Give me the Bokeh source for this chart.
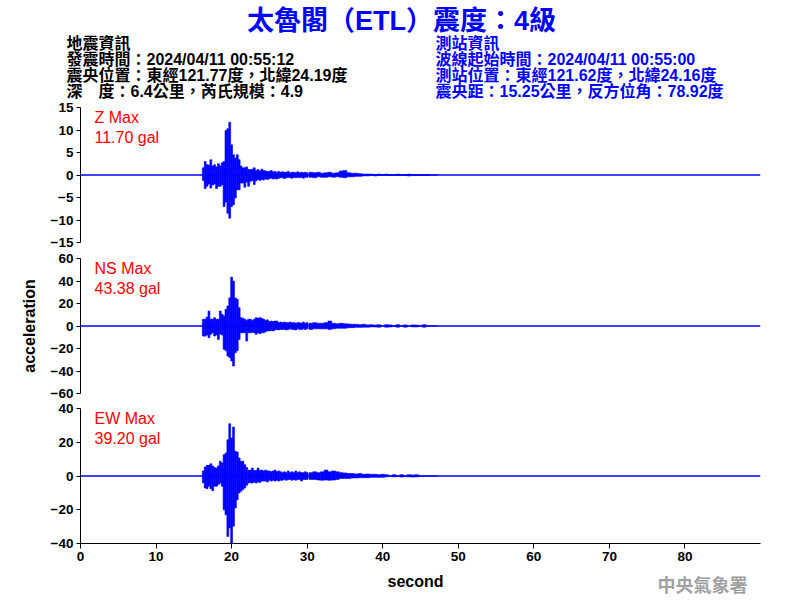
import numpy as np
from bokeh.plotting import figure
from bokeh.models import Range1d, Label
from bokeh.layouts import column, row
from bokeh.embed import file_html
from bokeh.resources import INLINE

# ---------------- data ----------------
TITLE = "太魯閣（ETL）震度：4級"
EQ_INFO = ["地震資訊",
           "發震時間：2024/04/11 00:55:12",
           "震央位置：東經121.77度，北緯24.19度",
           "深　度：6.4公里，芮氏規模：4.9"]
ST_INFO = ["測站資訊",
           "波線起始時間：2024/04/11 00:55:00",
           "測站位置：東經121.62度，北緯24.16度",
           "震央距：15.25公里，反方位角：78.92度"]
AGENCY = "中央氣象署"
X_LABEL = "second"
Y_LABEL = "acceleration"

CHANNELS = ["Z", "NS", "EW"]
MAX_GAL = [11.70, 43.38, 39.20]
Y_LIMITS = [15, 60, 40]
Y_TICKS = [[-15, -10, -5, 0, 5, 10, 15],
           [-60, -40, -20, 0, 20, 40, 60],
           [-40, -20, 0, 20, 40]]
X_TICKS = [0, 10, 20, 30, 40, 50, 60, 70, 80]
X_START, X_END = 0.0, 90.0

# sample times of the read-off peak envelope (s)
STEP_A, STEP_B = 0.25, 0.5
T_DENSE = np.arange(16.25, 30.001, STEP_A)   # 56 samples
T_TAIL = np.arange(30.5, 47.001, STEP_B)     # 34 samples

Z_HI_A = [1.6, 3.0, 2.3, 2.2, 3.4, 2.0, 2.3, 1.8,
          2.5, 2.0, 2.7, 3.0, 9.9, 10.3, 11.7, 6.7,
          4.5, 3.8, 4.5, 3.4, 2.0, 1.6, 1.6, 1.8,
          1.2, 1.2, 1.3, 1.6, 1.0, 1.2, 0.9, 1.3,
          1.0, 0.9, 0.8, 0.8, 1.0, 0.7, 0.8, 0.6,
          0.8, 0.6, 0.7, 0.6, 0.6, 0.8, 0.5, 0.6,
          0.6, 0.5, 0.7, 0.5, 0.6, 0.5, 0.6, 0.5]
Z_LO_A = [-1.2, -3.0, -2.5, -2.0, -2.9, -2.2, -2.0, -3.0,
          -2.5, -2.5, -2.2, -7.0, -6.0, -8.5, -9.6, -7.0,
          -6.6, -5.1, -3.3, -3.3, -1.8, -1.8, -2.7, -1.6,
          -2.5, -1.4, -1.2, -2.1, -1.3, -1.0, -1.2, -1.0,
          -1.1, -0.9, -1.0, -0.8, -0.7, -0.9, -0.8, -0.9,
          -0.7, -0.6, -0.6, -0.8, -0.6, -0.5, -0.6, -0.7,
          -0.5, -0.6, -0.5, -0.6, -0.5, -0.7, -0.5, -0.5]
Z_HI_B = [0.6, 0.5, 0.6, 0.4, 0.5, 0.6, 0.4, 0.5,
          0.9, 1.0, 0.5, 0.4, 0.4, 0.3, 0.2, 0.2,
          0.2, 0.1, 0.2, 0.1, 0.2, 0.1, 0.1, 0.2,
          0.1, 0.1, 0.2, 0.1, 0.1, 0.1, 0.1, 0.1,
          0.0, 0.0]
Z_LO_B = [-0.5, -0.6, -0.4, -0.5, -0.5, -0.4, -0.5, -0.4,
          -0.5, -0.6, -0.4, -0.4, -0.3, -0.3, -0.2, -0.2,
          -0.1, -0.2, -0.1, -0.1, -0.1, -0.1, -0.1, -0.1,
          -0.1, -0.1, -0.2, -0.1, -0.1, -0.1, -0.1, -0.1,
          0.0, 0.0]

NS_HI_A = [5.9, 6.0, 8.0, 13.3, 6.0, 6.0, 7.4, 6.0,
           6.0, 13.3, 10.4, 9.0, 14.8, 17.8, 25.0, 43.4,
           40.0, 25.0, 23.7, 16.3, 7.4, 7.0, 6.0, 5.0,
           6.0, 6.0, 5.0, 6.0, 7.4, 7.0, 7.4, 6.8,
           6.0, 5.0, 5.5, 4.0, 4.4, 4.0, 4.4, 4.4,
           3.0, 3.5, 3.0, 3.5, 3.0, 3.0, 3.5, 3.0,
           3.0, 2.5, 3.0, 3.0, 2.5, 3.5, 2.5, 3.0]
NS_LO_A = [-8.9, -9.0, -8.0, -10.4, -7.4, -6.0, -8.9, -8.0,
           -11.9, -7.0, -8.0, -20.7, -22.0, -26.7, -28.0, -31.0,
           -35.6, -23.7, -22.0, -11.9, -6.0, -6.0, -6.0, -13.3,
           -6.0, -6.0, -5.5, -6.0, -7.4, -6.0, -6.8, -5.9,
           -6.0, -5.0, -4.4, -4.4, -4.0, -4.4, -3.5, -3.0,
           -3.5, -3.0, -3.0, -3.0, -3.5, -3.0, -2.5, -3.0,
           -3.0, -3.5, -2.5, -3.0, -3.0, -2.5, -3.0, -2.5]
NS_HI_B = [2.5, 3.0, 2.5, 2.5, 3.0, 4.4, 2.5, 2.0,
           2.4, 2.0, 1.8, 1.5, 1.5, 1.2, 1.5, 1.0,
           1.2, 0.8, 1.2, 0.0, 1.2, 1.0, 0.0, 1.2,
           0.0, 1.0, 0.0, 1.0, 0.8, 0.0, 1.2, 0.0,
           0.0, 0.0]
NS_LO_B = [-3.0, -2.5, -2.5, -2.5, -2.5, -3.0, -2.5, -2.0,
           -2.0, -2.0, -1.5, -1.5, -1.2, -1.2, -1.0, -1.0,
           -0.8, -0.8, -1.0, 0.0, -1.0, -0.8, 0.0, -1.0,
           0.0, -1.0, 0.0, -0.8, -0.8, 0.0, -1.0, 0.0,
           0.0, 0.0]

EW_HI_A = [3.0, 5.3, 6.3, 6.3, 7.3, 6.0, 5.0, 4.7,
           6.0, 8.7, 7.7, 12.6, 13.6, 21.5, 31.0, 22.5,
           29.0, 14.6, 14.2, 10.7, 8.7, 8.7, 6.7, 5.0,
           3.4, 3.5, 4.7, 3.2, 3.2, 4.7, 3.2, 3.5,
           3.0, 3.5, 3.0, 3.0, 2.5, 3.0, 3.5, 2.5,
           3.0, 2.5, 2.0, 2.5, 2.0, 3.0, 2.0, 2.5,
           2.0, 3.0, 2.0, 2.5, 2.0, 2.0, 2.5, 2.0]
EW_LO_A = [-4.0, -7.1, -7.5, -6.0, -7.5, -8.7, -6.0, -6.1,
           -5.0, -4.2, -6.0, -20.0, -23.0, -35.8, -30.8, -39.7,
           -29.8, -19.0, -14.0, -10.0, -9.0, -8.0, -7.1, -5.5,
           -4.2, -4.0, -4.2, -3.5, -4.2, -3.5, -3.8, -3.0,
           -3.0, -3.0, -3.5, -2.5, -3.0, -2.5, -3.0, -2.5,
           -3.0, -2.5, -2.5, -2.0, -2.5, -2.0, -2.0, -2.5,
           -2.0, -2.5, -2.0, -2.0, -3.0, -2.0, -2.0, -2.0]
EW_HI_B = [2.0, 2.5, 2.0, 2.5, 3.5, 2.5, 3.0, 2.5,
           2.0, 1.8, 1.5, 1.5, 1.2, 1.5, 1.0, 1.2,
           1.0, 1.0, 0.8, 1.0, 0.8, 0.0, 0.8, 0.0,
           0.8, 0.0, 0.8, 0.6, 0.8, 0.0, 0.0, 0.0,
           0.0, 0.0]
EW_LO_B = [-2.0, -2.0, -2.4, -2.5, -2.4, -2.5, -2.4, -2.0,
           -1.5, -1.5, -1.5, -1.2, -1.2, -1.0, -1.0, -1.0,
           -0.8, -0.8, -0.8, -0.8, -0.5, 0.0, -0.5, 0.0,
           -0.6, 0.0, -0.5, -0.6, -0.5, 0.0, 0.0, 0.0,
           0.0, 0.0]

HI_A = [Z_HI_A, NS_HI_A, EW_HI_A]
LO_A = [Z_LO_A, NS_LO_A, EW_LO_A]
HI_B = [Z_HI_B, NS_HI_B, EW_HI_B]
LO_B = [Z_LO_B, NS_LO_B, EW_LO_B]

# ---------------- styles ----------------
LATIN = "Liberation Sans"
CJK = "Liberation Sans, Noto Sans CJK TC"
BLUE = "#0000ff"
RED = "#ff0000"
W = 800


def blank(height):
    """A figure whose frame is the whole canvas, coordinates = pixels from top-left."""
    p = figure(frame_width=W, frame_height=height,
               x_range=Range1d(0, W), y_range=Range1d(height, 0),
               output_backend="svg", toolbar_location=None,
               x_axis_location=None, y_axis_location=None,
               min_border_left=0, min_border_right=0,
               min_border_top=0, min_border_bottom=0)
    p.outline_line_color = None
    p.grid.visible = False
    p.border_fill_color = "white"
    p.background_fill_color = "white"
    return p


def style_axis(ax):
    ax.minor_tick_line_color = None
    ax.major_tick_in = 0
    ax.axis_line_color = "black"
    ax.major_tick_line_color = "black"
    ax.major_label_text_font = LATIN
    ax.major_label_text_font_style = "bold"
    ax.major_label_text_font_size = "13.5px"
    ax.major_label_text_color = "black"


def make_panel(i, border_top, border_bottom, with_x_axis):
    lim = Y_LIMITS[i]
    p = figure(frame_width=680, frame_height=135,
               x_range=Range1d(X_START, X_END), y_range=Range1d(-lim, lim),
               output_backend="svg", toolbar_location=None,
               x_axis_location="below" if with_x_axis else None,
               min_border_left=80, min_border_right=40,
               min_border_top=border_top, min_border_bottom=border_bottom)
    p.outline_line_color = None
    p.grid.visible = False
    p.background_fill_color = "white"
    p.border_fill_color = "white"

    ya = p.yaxis[0]
    ya.ticker = Y_TICKS[i]
    style_axis(ya)
    ya.major_tick_out = 4
    ya.major_label_standoff = 3

    if with_x_axis:
        xa = p.xaxis[0]
        xa.ticker = X_TICKS
        style_axis(xa)
        xa.major_tick_out = 5
        xa.major_label_standoff = 3

    # flat trace (zero line) and the envelope of the recorded acceleration
    p.line([X_START, X_END], [0, 0], line_color=BLUE, line_width=1.3)
    p.vbar(x=T_DENSE, width=STEP_A, top=HI_A[i], bottom=LO_A[i],
           fill_color=BLUE, line_color=BLUE, line_width=0.6)
    p.vbar(x=T_TAIL, width=STEP_B, top=HI_B[i], bottom=LO_B[i],
           fill_color=BLUE, line_color=BLUE, line_width=0.6)

    for k, txt in enumerate([f"{CHANNELS[i]} Max", f"{MAX_GAL[i]:.2f} gal"]):
        p.add_layout(Label(x=X_START, y=lim, x_offset=14, y_offset=-10 - 20 * k,
                           text=txt, text_color=RED, text_font=LATIN,
                           text_font_size="16px", text_baseline="middle",
                           text_align="left"))
    return p


# header
head = blank(100)
head.add_layout(Label(x=401, y=20, text=TITLE, text_color=BLUE, text_font=CJK,
                      text_font_style="bold", text_font_size="27px",
                      text_align="center", text_baseline="middle"))
for k, (l_txt, r_txt) in enumerate(zip(EQ_INFO, ST_INFO)):
    yy = 43 + 16 * k
    head.add_layout(Label(x=66, y=yy, text=l_txt, text_color="black", text_font=CJK,
                          text_font_style="bold", text_font_size="16px",
                          text_align="left", text_baseline="middle"))
    head.add_layout(Label(x=435, y=yy, text=r_txt, text_color=BLUE, text_font=CJK,
                          text_font_style="bold", text_font_size="16px",
                          text_align="left", text_baseline="middle"))

p1 = make_panel(0, 7, 8, False)
p2 = make_panel(1, 8, 7, False)
p3 = make_panel(2, 8, 25, True)

ya2 = p2.yaxis[0]
ya2.axis_label = Y_LABEL
ya2.axis_label_text_font = LATIN
ya2.axis_label_text_font_style = "bold"
ya2.axis_label_text_font_size = "16px"
ya2.axis_label_text_color = "black"
ya2.axis_label_standoff = 10

# footer: x-axis title and agency mark
foot = blank(32)
foot.add_layout(Label(x=415, y=13, text=X_LABEL, text_color="black", text_font=LATIN,
                      text_font_style="bold", text_font_size="16px",
                      text_align="center", text_baseline="middle"))
foot.add_layout(Label(x=747, y=15, text=AGENCY, text_color="#a0a0a0",
                      text_font="Noto Sans CJK TC", text_font_style="bold",
                      text_font_size="18px", text_align="right",
                      text_baseline="middle"))

layout = column(row(head), column(p1, p2, p3), row(foot), spacing=0)
open("out.html", "w").write(file_html(layout, INLINE))
